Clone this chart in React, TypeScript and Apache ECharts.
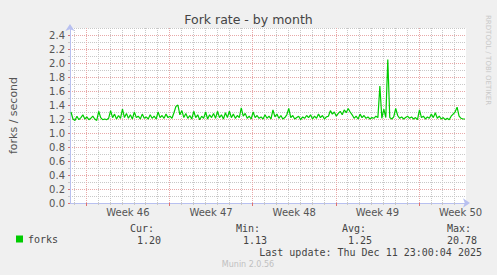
import React, { useEffect, useRef } from 'react';
import * as echarts from 'echarts';

const chartTitle = 'Fork rate - by month';
const yAxisName = 'forks / second';
const seriesName = 'forks';

// Hours relative to Mon 10 Nov 2025 00:00 (start of ISO week 46)
const startHour = -33;
const endHour = 767;
const firstSampleHour = -31;
const sampleStepHours = 4;

const forks = [
  1.30, 1.20, 1.18, 1.24, 1.19, 1.22, 1.26, 1.20, 1.23, 1.19,
  1.21, 1.24, 1.20, 1.18, 1.31, 1.22, 1.19, 1.20, 1.19, 1.21,
  1.32, 1.22, 1.27, 1.20, 1.25, 1.21, 1.34, 1.22, 1.28, 1.21,
  1.26, 1.20, 1.30, 1.22, 1.24, 1.20, 1.27, 1.21, 1.23, 1.20,
  1.26, 1.21, 1.24, 1.20, 1.30, 1.22, 1.25, 1.21, 1.27, 1.22,
  1.24, 1.21, 1.29, 1.38, 1.40, 1.26, 1.32, 1.22, 1.28, 1.21,
  1.25, 1.20, 1.31, 1.22, 1.26, 1.19, 1.24, 1.21, 1.30, 1.20,
  1.26, 1.22, 1.28, 1.21, 1.31, 1.22, 1.26, 1.20, 1.29, 1.22,
  1.31, 1.22, 1.27, 1.21, 1.25, 1.22, 1.36, 1.24, 1.28, 1.21,
  1.24, 1.20, 1.30, 1.22, 1.25, 1.21, 1.23, 1.20, 1.26, 1.21,
  1.24, 1.20, 1.33, 1.23, 1.27, 1.21, 1.25, 1.20, 1.22, 1.26,
  1.35, 1.22, 1.25, 1.20, 1.22, 1.24, 1.19, 1.23, 1.21, 1.25,
  1.22, 1.26, 1.20, 1.24, 1.21, 1.27, 1.22, 1.25, 1.20, 1.23,
  1.24, 1.32, 1.27, 1.30, 1.24, 1.28, 1.31, 1.26, 1.33, 1.29,
  1.35, 1.30, 1.26, 1.21, 1.24, 1.20, 1.27, 1.22, 1.25, 1.21,
  1.23, 1.20, 1.22, 1.21, 1.24, 1.22, 1.67, 1.21, 1.34, 1.22,
  2.05, 1.22, 1.20, 1.23, 1.35, 1.25, 1.21, 1.23, 1.20, 1.22,
  1.24, 1.21, 1.23, 1.20, 1.22, 1.19, 1.33, 1.22, 1.24, 1.20,
  1.23, 1.21, 1.27, 1.22, 1.29, 1.21, 1.24, 1.20, 1.22, 1.19,
  1.21, 1.19, 1.24, 1.27, 1.30, 1.37, 1.24, 1.21, 1.20, 1.20,
];

const weekStartHours = [0, 168, 336, 504, 672];
const weekLabelHours = [84, 252, 420, 588, 756];
const weekLabels = ['Week 46', 'Week 47', 'Week 48', 'Week 49', 'Week 50'];
const dayHours = [
  -24, 0, 24, 48, 72, 96, 120, 144, 168, 192, 216, 240, 264, 288, 312, 336, 360,
  384, 408, 432, 456, 480, 504, 528, 552, 576, 600, 624, 648, 672, 696, 720, 744,
];

const yMin = 0;
const yMax = 2.5;
const yLabelValues = [0, 0.2, 0.4, 0.6, 0.8, 1.0, 1.2, 1.4, 1.6, 1.8, 2.0, 2.2, 2.4];
const yMinorValues = [0.1, 0.3, 0.5, 0.7, 0.9, 1.1, 1.3, 1.5, 1.7, 1.9, 2.1, 2.3, 2.5];

const statLabels = ['Cur:', 'Min:', 'Avg:', 'Max:'];
const statValues = ['1.20', '1.13', '1.25', '20.78'];
const lastUpdate = 'Last update: Thu Dec 11 23:00:04 2025';
const footer = 'Munin 2.0.56';
const sideText = 'RRDTOOL / TOBI OETIKER';

const statLabelRight = [154, 260, 366, 471];
const statValueRight = [161, 267, 372, 477];

export default function App() {
  const ref = useRef<HTMLDivElement>(null);

  useEffect(() => {
    document.body.style.margin = '0';
    if (!ref.current) return;
    const chart = echarts.init(ref.current, undefined, { renderer: 'svg' });

    const seriesData = forks.map((v, i) => [firstSampleHour + i * sampleStepHours, v]);
    const axisColor = '#b8c0f0';
    const redGrid = '#e8a8a8';
    const grayGrid = '#c8c8c8';
    const textColor = '#555';
    const mono = 'DejaVu Sans Mono';

    const graphics: any[] = [];
    statLabels.forEach((s, i) => {
      graphics.push({
        type: 'text', x: statLabelRight[i], y: 228,
        style: { text: s, align: 'right', verticalAlign: 'middle', font: `10px "${mono}"`, fill: '#444' },
      });
      graphics.push({
        type: 'text', x: statValueRight[i], y: 240,
        style: { text: statValues[i], align: 'right', verticalAlign: 'middle', font: `10px "${mono}"`, fill: '#444' },
      });
    });
    graphics.push({
      type: 'text', x: 482, y: 252,
      style: { text: lastUpdate, align: 'right', verticalAlign: 'middle', font: `10px "${mono}"`, fill: '#444' },
    });
    graphics.push({
      type: 'text', x: 248, y: 264,
      style: { text: footer, align: 'center', verticalAlign: 'middle', font: '8px "DejaVu Sans"', fill: '#c0c0c0' },
    });
    graphics.push({
      type: 'text', x: 488, y: 15, rotation: -Math.PI / 2,
      style: { text: sideText, align: 'left', verticalAlign: 'middle', font: '7px "DejaVu Sans"', fill: '#c8c8c8' },
    });

    chart.setOption({
      animation: false,
      backgroundColor: '#f0f0f0',
      title: {
        text: chartTitle, left: 'center', top: 8,
        textStyle: { fontFamily: 'DejaVu Sans', fontSize: 12.5, fontWeight: 'normal', color: '#444' },
      },
      legend: {
        data: [seriesName], left: 11, top: 229, icon: 'rect', itemWidth: 7, itemHeight: 7, itemGap: 5,
        textStyle: { fontFamily: mono, fontSize: 10, color: '#444' },
      },
      grid: {
        left: 66, top: 28, right: 31, bottom: 72, show: true, backgroundColor: '#ffffff', borderWidth: 0,
        containLabel: false,
      },
      xAxis: [
        {
          type: 'value', min: startHour, max: endHour, position: 'bottom',
          axisLine: {
            show: true, onZero: false, lineStyle: { color: axisColor, width: 1 },
            symbol: ['none', 'arrow'], symbolSize: [7, 7], symbolOffset: [0, 4],
          },
          axisTick: { show: true, customValues: dayHours, length: 2, lineStyle: { color: '#c8c8c8' } },
          splitLine: { show: true, lineStyle: { color: grayGrid, type: 'dotted', width: 1 } },
          axisLabel: { show: false },
        },
        {
          type: 'value', min: startHour, max: endHour, position: 'bottom',
          axisLine: { show: false, onZero: false },
          axisTick: { show: true, customValues: weekStartHours, length: 3, lineStyle: { color: '#e07070' } },
          splitLine: { show: true, lineStyle: { color: redGrid, type: 'dotted', width: 1 } },
          axisLabel: { show: false },
        },
        {
          type: 'value', min: startHour, max: endHour, position: 'bottom',
          axisLine: { show: false, onZero: false },
          axisTick: { show: false },
          splitLine: { show: false },
          axisLabel: {
            show: true, customValues: weekLabelHours,
            formatter: (v: number) => weekLabels[weekLabelHours.indexOf(v)] ?? '',
            color: textColor, fontSize: 10, fontFamily: 'DejaVu Sans', margin: 4,
          },
        },
      ],
      yAxis: [
        {
          type: 'value', min: yMin, max: yMax, position: 'left',
          name: yAxisName, nameLocation: 'middle', nameGap: 51, nameRotate: 90,
          nameTextStyle: { fontFamily: 'DejaVu Sans', fontSize: 11, color: textColor },
          axisLine: {
            show: true, onZero: false, lineStyle: { color: axisColor, width: 1 },
            symbol: ['none', 'arrow'], symbolSize: [7, 7], symbolOffset: [0, 4],
          },
          axisTick: { show: true, customValues: yLabelValues, length: 2, lineStyle: { color: '#e07070' } },
          splitLine: { show: true, lineStyle: { color: redGrid, type: 'dotted', width: 1 } },
          axisLabel: {
            show: true, customValues: yLabelValues,
            formatter: (v: number) => v.toFixed(1),
            color: textColor, fontSize: 10, fontFamily: 'DejaVu Sans', margin: 5,
          },
        },
        {
          type: 'value', min: yMin, max: yMax, position: 'left',
          axisLine: { show: false, onZero: false },
          axisTick: { show: true, customValues: yMinorValues, length: 2, lineStyle: { color: '#c8c8c8' } },
          splitLine: { show: true, lineStyle: { color: grayGrid, type: 'dotted', width: 1 } },
          axisLabel: { show: false },
        },
      ],
      series: [
        {
          name: seriesName, type: 'line', xAxisIndex: 0, yAxisIndex: 0,
          data: seriesData, showSymbol: false, symbol: 'none',
          itemStyle: { color: '#00cc00' },
          lineStyle: { color: '#00cc00', width: 1.2 },
          z: 5,
        },
      ],
      graphic: graphics,
    });

    return () => chart.dispose();
  }, []);

  return (
    <div
      ref={ref}
      style={{ position: 'absolute', left: 0, top: 0, width: 497, height: 275 }}
    />
  );
}
